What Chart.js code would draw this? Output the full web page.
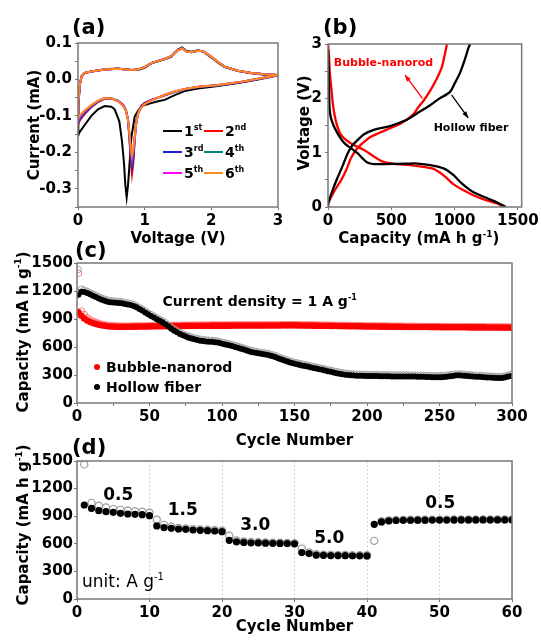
<!DOCTYPE html>
<html>
<head>
<meta charset="UTF-8">
<title>Bubble-nanorod vs hollow fiber</title>
<script src="https://cdn.jsdelivr.net/npm/chart.js@4.4.1/dist/chart.umd.min.js"></script>
<style>
  html, body { margin: 0; background: #fff; }
  #fig { position: relative; width: 541px; height: 643px; }
  #fig canvas { position: absolute; left: 0; top: 0; }
</style>
</head>
<body>
<div id="fig">
  <canvas id="cv" width="541" height="643"></canvas>
  <canvas id="gcd" width="541" height="643"></canvas>
  <canvas id="cyc" width="541" height="643"></canvas>
  <canvas id="rate" width="541" height="643"></canvas>
</div>
<script>
// (a) cyclic voltammetry, first six cycles
const cvCycleNames = ['1st', '2nd', '3rd', '4th', '5th', '6th'];
const cvColors = ['#000000', '#ff0000', '#1f1fd0', '#00897b', '#ff00ff', '#ff8a1c'];
const cvDownV1 = [3.0, 2.7, 2.4, 2.1, 1.8, 1.6, 1.45, 1.3, 1.2, 1.1, 1.0, 0.95, 0.9, 0.85, 0.8, 0.77, 0.75, 0.73, 0.71, 0.69, 0.66, 0.62, 0.55, 0.5, 0.4, 0.3, 0.2, 0.1, 0.03, 0.0];
const cvDownV = [3.0, 2.7, 2.4, 2.1, 1.8, 1.6, 1.45, 1.3, 1.2, 1.1, 1.0, 0.95, 0.9, 0.87, 0.85, 0.83, 0.81, 0.79, 0.77, 0.75, 0.72, 0.68, 0.6, 0.5, 0.4, 0.3, 0.2, 0.1, 0.03, 0.0];
const cvUpV = [0.0, 0.01, 0.03, 0.06, 0.1, 0.2, 0.4, 0.6, 0.8, 0.9, 1.0, 1.1, 1.2, 1.3, 1.4, 1.5, 1.56, 1.63, 1.7, 1.8, 1.88, 2.0, 2.1, 2.2, 2.4, 2.6, 2.8, 3.0];
const cvDownI = [
  [0.011, 0.0, -0.01, -0.018, -0.025, -0.032, -0.043, -0.056, -0.06, -0.065, -0.07, -0.076, -0.086, -0.102, -0.16, -0.24, -0.29, -0.324, -0.29, -0.23, -0.17, -0.115, -0.082, -0.075, -0.073, -0.082, -0.1, -0.125, -0.143, -0.153],
  [0.012, 0.001, -0.009, -0.016, -0.021, -0.027, -0.034, -0.044, -0.05, -0.056, -0.064, -0.072, -0.09, -0.12, -0.17, -0.23, -0.26, -0.22, -0.16, -0.11, -0.085, -0.07, -0.058, -0.052, -0.053, -0.062, -0.076, -0.095, -0.112, -0.122],
  [0.012, 0.001, -0.009, -0.016, -0.021, -0.027, -0.034, -0.043, -0.05, -0.056, -0.065, -0.073, -0.092, -0.122, -0.165, -0.215, -0.24, -0.205, -0.155, -0.11, -0.086, -0.071, -0.059, -0.052, -0.052, -0.061, -0.074, -0.092, -0.108, -0.118],
  [0.012, 0.002, -0.008, -0.016, -0.021, -0.027, -0.034, -0.043, -0.05, -0.057, -0.066, -0.075, -0.093, -0.124, -0.162, -0.2, -0.225, -0.195, -0.15, -0.11, -0.087, -0.072, -0.059, -0.052, -0.052, -0.06, -0.072, -0.089, -0.104, -0.113],
  [0.012, 0.002, -0.008, -0.015, -0.02, -0.026, -0.033, -0.042, -0.05, -0.057, -0.067, -0.076, -0.094, -0.125, -0.161, -0.195, -0.215, -0.19, -0.148, -0.11, -0.087, -0.072, -0.06, -0.052, -0.051, -0.059, -0.071, -0.087, -0.101, -0.11],
  [0.012, 0.002, -0.008, -0.015, -0.02, -0.026, -0.033, -0.042, -0.05, -0.058, -0.068, -0.077, -0.095, -0.125, -0.16, -0.19, -0.208, -0.185, -0.145, -0.11, -0.088, -0.073, -0.06, -0.052, -0.051, -0.058, -0.07, -0.085, -0.098, -0.106]
];
const cvUpI = [
  [-0.153, -0.07, -0.012, 0.011, 0.017, 0.022, 0.028, 0.03, 0.026, 0.026, 0.032, 0.044, 0.05, 0.055, 0.062, 0.082, 0.088, 0.078, 0.076, 0.08, 0.076, 0.06, 0.046, 0.034, 0.023, 0.017, 0.013, 0.011],
  [-0.122, -0.065, -0.011, 0.012, 0.018, 0.022, 0.027, 0.029, 0.026, 0.027, 0.034, 0.045, 0.051, 0.056, 0.064, 0.081, 0.086, 0.077, 0.075, 0.079, 0.077, 0.062, 0.048, 0.035, 0.024, 0.018, 0.014, 0.012],
  [-0.118, -0.064, -0.011, 0.012, 0.018, 0.022, 0.027, 0.029, 0.026, 0.027, 0.034, 0.045, 0.051, 0.056, 0.064, 0.081, 0.086, 0.077, 0.075, 0.079, 0.077, 0.062, 0.048, 0.035, 0.024, 0.018, 0.014, 0.012],
  [-0.113, -0.062, -0.01, 0.012, 0.018, 0.022, 0.027, 0.029, 0.026, 0.027, 0.034, 0.045, 0.051, 0.056, 0.064, 0.08, 0.086, 0.077, 0.075, 0.079, 0.077, 0.062, 0.048, 0.035, 0.024, 0.018, 0.014, 0.012],
  [-0.11, -0.061, -0.01, 0.012, 0.018, 0.022, 0.027, 0.029, 0.026, 0.027, 0.034, 0.045, 0.051, 0.056, 0.064, 0.08, 0.085, 0.076, 0.075, 0.079, 0.077, 0.062, 0.048, 0.035, 0.024, 0.018, 0.014, 0.012],
  [-0.106, -0.06, -0.01, 0.012, 0.018, 0.022, 0.027, 0.029, 0.026, 0.027, 0.034, 0.045, 0.051, 0.056, 0.064, 0.08, 0.085, 0.076, 0.075, 0.079, 0.077, 0.062, 0.048, 0.035, 0.024, 0.018, 0.014, 0.012]
];
const cvXTicks = [0, 1, 2, 3];
const cvYTicks = [0.1, 0.05, 0.0, -0.05, -0.1, -0.15, -0.2, -0.25, -0.3, -0.35];
const cvYLabels = [0.1, 0.0, -0.1, -0.2, -0.3];

// (b) discharge / charge profiles
const bnDisCap = [0, 8, 15, 28, 41, 67, 105, 182, 285, 362, 438, 541, 650, 750, 823, 880, 930, 990, 1060, 1144, 1220, 1298, 1350, 1395];
const bnDisV = [3.0, 2.77, 2.46, 2.15, 1.85, 1.54, 1.32, 1.17, 1.05, 0.93, 0.83, 0.79, 0.77, 0.74, 0.71, 0.64, 0.55, 0.42, 0.32, 0.22, 0.15, 0.09, 0.05, 0.0];
const bnChgCap = [0, 2, 54, 105, 144, 182, 221, 271, 336, 413, 490, 560, 618, 680, 708, 759, 810, 861, 900, 925, 940];
const bnChgV = [0, 0.07, 0.31, 0.5, 0.68, 0.9, 1.05, 1.17, 1.29, 1.37, 1.45, 1.52, 1.6, 1.72, 1.82, 1.97, 2.15, 2.37, 2.58, 2.83, 3.0];
const hfDisCap = [0, 2, 5, 8, 12, 18, 28, 54, 92, 131, 182, 233, 271, 310, 362, 450, 550, 650, 708, 810, 913, 990, 1054, 1144, 1259, 1348, 1405];
const hfDisV = [2.9, 2.83, 2.5, 2.2, 1.85, 1.7, 1.6, 1.45, 1.29, 1.17, 1.08, 0.99, 0.9, 0.82, 0.79, 0.79, 0.795, 0.8, 0.8, 0.77, 0.71, 0.59, 0.44, 0.28, 0.16, 0.07, 0.0];
const hfChgCap = [0, 2, 41, 79, 118, 156, 195, 233, 285, 362, 490, 618, 708, 798, 870, 964, 1002, 1041, 1079, 1113, 1125];
const hfChgV = [0, 0.07, 0.34, 0.56, 0.77, 0.99, 1.14, 1.23, 1.34, 1.42, 1.49, 1.6, 1.73, 1.86, 1.98, 2.12, 2.28, 2.46, 2.7, 2.95, 3.0];
const gcdXTicks = [0, 500, 1000, 1500];
const gcdYTicks = [0, 0.5, 1, 1.5, 2, 2.5, 3];
const gcdYLabels = [0, 1, 2, 3];

// (c) cycling at 1 A/g, every second cycle
const longCycles = Array.from({ length: 150 }, (_, i) => 2 * i + 1);
const bnDischarge = [
  972, 935, 905, 884, 868, 856, 846, 838, 832, 827,
  823, 820, 818, 817, 816, 816, 816, 817, 817, 818,
  818, 819, 819, 820, 820, 821, 821, 822, 822, 823,
  823, 824, 824, 825, 825, 825, 826, 826, 826, 827,
  827, 827, 828, 828, 828, 828, 829, 829, 829, 829,
  829, 829, 829, 830, 830, 830, 830, 830, 830, 830,
  830, 830, 830, 830, 830, 831, 831, 831, 831, 831,
  832, 832, 832, 832, 832, 832, 831, 831, 831, 830,
  830, 829, 829, 828, 828, 827, 827, 826, 826, 825,
  825, 824, 824, 823, 823, 822, 822, 821, 821, 820,
  820, 820, 819, 819, 818, 818, 818, 817, 817, 817,
  816, 816, 816, 815, 815, 815, 815, 814, 814, 814,
  814, 813, 813, 813, 813, 812, 812, 812, 812, 812,
  811, 811, 811, 811, 811, 810, 810, 810, 810, 810,
  810, 809, 809, 809, 809, 809, 809, 808, 808, 808
];
const bnCharge = [
  1390, 985, 948, 915, 893, 876, 864, 853, 845, 839,
  834, 830, 827, 825, 824, 823, 823, 824, 824, 825,
  825, 826, 826, 827, 827, 828, 828, 829, 829, 830,
  830, 831, 831, 832, 832, 832, 833, 833, 833, 834,
  834, 834, 835, 835, 835, 835, 836, 836, 836, 836,
  836, 836, 836, 837, 837, 837, 837, 837, 837, 837,
  837, 837, 837, 837, 837, 838, 838, 838, 838, 838,
  839, 839, 839, 839, 839, 839, 838, 838, 838, 837,
  837, 836, 836, 835, 835, 834, 834, 833, 833, 832,
  832, 831, 831, 830, 830, 829, 829, 828, 828, 827,
  827, 827, 826, 826, 825, 825, 825, 824, 824, 824,
  823, 823, 823, 822, 822, 822, 822, 821, 821, 821,
  821, 820, 820, 820, 820, 819, 819, 819, 819, 819,
  818, 818, 818, 818, 818, 817, 817, 817, 817, 817,
  817, 816, 816, 816, 816, 816, 816, 815, 815, 815
];
const hfDischarge = [
  1160, 1192, 1190, 1178, 1165, 1150, 1135, 1120, 1105, 1095,
  1085, 1080, 1078, 1075, 1072, 1068, 1062, 1056, 1050, 1040,
  1025, 1008, 990, 970, 950, 932, 915, 898, 880, 865,
  845, 820, 795, 775, 757, 740, 725, 712, 700, 690,
  682, 675, 668, 663, 660, 657, 655, 652, 648, 640,
  632, 625, 618, 610, 600, 592, 582, 572, 562, 553,
  545, 538, 532, 527, 522, 517, 510, 500, 490, 478,
  466, 455, 444, 434, 425, 417, 410, 403, 396, 390,
  383, 376, 369, 362, 355, 348, 341, 334, 327, 320,
  314, 309, 304, 300, 297, 295, 293, 292, 291, 290,
  290, 289, 288, 288, 287, 287, 286, 286, 285, 285,
  285, 285, 284, 284, 284, 283, 283, 282, 281, 280,
  279, 278, 277, 276, 276, 277, 279, 282, 286, 290,
  294, 296, 295, 292, 289, 286, 284, 282, 280, 278,
  276, 274, 272, 270, 268, 267, 268, 272, 280, 290
];
const hfCharge = [
  1430, 1222, 1212, 1198, 1184, 1170, 1155, 1140, 1126, 1115,
  1105, 1099, 1096, 1093, 1090, 1086, 1080, 1074, 1068, 1058,
  1043, 1026, 1008, 988, 968, 950, 933, 916, 898, 883,
  863, 838, 813, 793, 775, 758, 743, 730, 718, 708,
  700, 693, 686, 681, 678, 675, 673, 670, 666, 658,
  650, 643, 636, 628, 618, 610, 600, 590, 580, 571,
  563, 556, 550, 545, 540, 535, 528, 518, 508, 496,
  484, 473, 462, 452, 443, 435, 428, 421, 414, 408,
  401, 394, 387, 380, 373, 366, 359, 352, 345, 338,
  332, 327, 322, 318, 315, 313, 311, 310, 309, 308,
  308, 307, 306, 306, 305, 305, 304, 304, 303, 303,
  303, 303, 302, 302, 302, 301, 301, 300, 299, 298,
  297, 296, 295, 294, 294, 295, 297, 300, 304, 308,
  312, 314, 313, 310, 307, 304, 302, 300, 298, 296,
  294, 292, 290, 288, 286, 285, 286, 290, 298, 308
];
const longXTicks = [0, 25, 50, 75, 100, 125, 150, 175, 200, 225, 250, 275, 300];
const longXLabels = [0, 50, 100, 150, 200, 250, 300];
const capTicks = [0, 300, 600, 900, 1200, 1500];

// (d) rate capability, ten cycles per current density
const rateCycles = Array.from({ length: 60 }, (_, i) => i + 1);
const rateDischarge = [
  1022, 985, 960, 949, 942, 931, 924, 920, 917, 906,
  794, 776, 768, 761, 757, 750, 747, 743, 739, 732,
  638, 622, 615, 611, 610, 607, 606, 604, 603, 600,
  505, 494, 476, 475, 472, 472, 471, 470, 469, 468,
  812, 838, 849, 853, 855, 856, 857, 857, 858, 858,
  858, 859, 859, 859, 859, 860, 860, 860, 860, 860
];
const rateCharge = [
  1463, 1045, 1013, 995, 977, 969, 962, 955, 948, 937,
  862, 806, 785, 772, 766, 760, 756, 752, 748, 742,
  688, 636, 626, 621, 618, 615, 613, 611, 609, 607,
  548, 506, 486, 482, 480, 479, 478, 477, 476, 475,
  632, 845, 855, 858, 860, 861, 862, 862, 863, 863,
  863, 864, 864, 864, 864, 865, 865, 865, 865, 865
];
const rateSteps = ['0.5', '1.5', '3.0', '5.0', '0.5'];
const rateXTicks = [0, 10, 20, 30, 40, 50, 60];

const FONT = '"DejaVu Sans", sans-serif';
const FRAME = '#777777';
Chart.defaults.font.family = FONT;
Chart.defaults.font.weight = 'bold';
Chart.defaults.font.size = 15;
Chart.defaults.color = '#000';

// text made of plain and superscript pieces; a piece starting with '^' is raised
function rich(ctx, parts, x, y, size, o = {}) {
  const weight = o.weight || 'bold';
  const segs = parts.map(p => p[0] === '^'
    ? { t: p.slice(1), s: Math.round(size * 0.6), dy: -size * 0.42 }
    : { t: p, s: size, dy: 0 });
  let w = 0;
  segs.forEach(g => { ctx.font = `${weight} ${g.s}px ${FONT}`; g.w = ctx.measureText(g.t).width; w += g.w; });
  let cx = o.align === 'center' ? x - w / 2 : (o.align === 'right' ? x - w : x);
  ctx.save();
  ctx.fillStyle = o.color || '#000';
  ctx.textAlign = 'left';
  ctx.textBaseline = 'alphabetic';
  segs.forEach(g => { ctx.font = `${weight} ${g.s}px ${FONT}`; ctx.fillText(g.t, cx, y + g.dy); cx += g.w; });
  ctx.restore();
}

function richUp(ctx, parts, x, y, size, o = {}) {
  ctx.save();
  ctx.translate(x, y);
  ctx.rotate(-Math.PI / 2);
  rich(ctx, parts, 0, 0, size, Object.assign({ align: 'center' }, o));
  ctx.restore();
}

function frame(chart) {
  const { ctx, chartArea: a } = chart;
  ctx.save();
  ctx.strokeStyle = FRAME;
  ctx.lineWidth = 1.5;
  ctx.strokeRect(a.left, a.top, a.right - a.left, a.bottom - a.top);
  ctx.restore();
}

function arrow(ctx, x1, y1, x2, y2, color) {
  const ang = Math.atan2(y2 - y1, x2 - x1), h = 7;
  ctx.save();
  ctx.strokeStyle = color;
  ctx.fillStyle = color;
  ctx.lineWidth = 1.3;
  ctx.beginPath(); ctx.moveTo(x1, y1); ctx.lineTo(x2, y2); ctx.stroke();
  ctx.beginPath();
  ctx.moveTo(x2, y2);
  ctx.lineTo(x2 - h * Math.cos(ang - 0.35), y2 - h * Math.sin(ang - 0.35));
  ctx.lineTo(x2 - h * Math.cos(ang + 0.35), y2 - h * Math.sin(ang + 0.35));
  ctx.closePath(); ctx.fill();
  ctx.restore();
}

// plot area in page pixels; the axes get a fixed room around it
function box(l, t, r, b) {
  return { padding: { left: l - 60, top: t, right: 541 - r, bottom: 643 - b - 30 }, autoPadding: false };
}

function axis(o) {
  return {
    type: 'linear', min: o.min, max: o.max,
    afterBuildTicks: s => { s.ticks = o.ticks.map(v => ({ value: v })); },
    afterFit: s => { if (o.x) s.height = 30; else s.width = 60; },
    ticks: {
      autoSkip: false, maxRotation: 0, padding: o.pad === undefined ? 2 : o.pad, color: '#000',
      font: { family: FONT, size: 15, weight: 'bold' },
      callback: v => o.labels.includes(v) ? o.fmt(v) : ''
    },
    grid: o.grid || { drawOnChartArea: false, tickLength: 3, tickColor: FRAME, tickWidth: 1 },
    border: o.border || { display: false }
  };
}

const base = (l, t, r, b) => ({
  responsive: false, animation: false, events: [],
  layout: box(l, t, r, b),
  plugins: { legend: { display: false }, tooltip: { enabled: false } }
});

const pairs = (xs, ys) => xs.map((x, i) => ({ x, y: ys[i] }));

// ---------- (a) ----------
const cvSets = cvCycleNames.map((name, i) => ({
  label: name,
  data: pairs(i === 0 ? cvDownV1 : cvDownV, cvDownI[i]).concat(pairs(cvUpV, cvUpI[i])),
  showLine: true, pointRadius: 0, borderColor: cvColors[i], borderWidth: 2, order: 6 - i
}));

new Chart(document.getElementById('cv'), {
  type: 'scatter',
  data: { datasets: cvSets },
  options: Object.assign(base(78, 43, 278, 207), {
    scales: {
      x: axis({ min: 0, max: 3, ticks: cvXTicks, labels: cvXTicks, fmt: v => String(v), x: true }),
      y: axis({ min: -0.35, max: 0.1, ticks: cvYTicks, labels: cvYLabels, fmt: v => v.toFixed(1), pad: 3 })
    }
  }),
  plugins: [{
    id: 'cvDeco',
    afterDraw(c) {
      const { ctx, chartArea: a } = c;
      frame(c);
      rich(ctx, ['(a)'], 72, 34, 21);
      rich(ctx, ['Voltage (V)'], (a.left + a.right) / 2, 243, 15, { align: 'center' });
      richUp(ctx, ['Current (mA)'], 38.5, (a.top + a.bottom) / 2, 15);
      cvCycleNames.forEach((name, i) => {
        const lx = [163, 204][i % 2], ly = 131 + Math.floor(i / 2) * 21;
        ctx.save();
        ctx.strokeStyle = cvColors[i]; ctx.lineWidth = 2;
        ctx.beginPath(); ctx.moveTo(lx, ly); ctx.lineTo(lx + 19, ly); ctx.stroke();
        ctx.restore();
        rich(ctx, [name.slice(0, 1), '^' + name.slice(1)], lx + 21, ly + 5, 14);
      });
    }
  }]
});

// ---------- (b) ----------
new Chart(document.getElementById('gcd'), {
  type: 'scatter',
  data: {
    datasets: [
      { label: 'Hollow fiber discharge', data: pairs(hfDisCap, hfDisV), borderColor: '#000' },
      { label: 'Hollow fiber charge', data: pairs(hfChgCap, hfChgV), borderColor: '#000' },
      { label: 'Bubble-nanorod discharge', data: pairs(bnDisCap, bnDisV), borderColor: '#ff0000' },
      { label: 'Bubble-nanorod charge', data: pairs(bnChgCap, bnChgV), borderColor: '#ff0000' }
    ].map(d => Object.assign(d, { showLine: true, pointRadius: 0, borderWidth: 2.3, tension: 0.3 }))
  },
  options: Object.assign(base(328, 44, 527, 207), {
    scales: {
      x: axis({ min: 0, max: 1530, ticks: gcdXTicks, labels: gcdXTicks, fmt: v => String(v), x: true }),
      y: axis({ min: 0, max: 3, ticks: gcdYTicks, labels: gcdYLabels, fmt: v => String(v), pad: 3 })
    }
  }),
  plugins: [{
    id: 'gcdDeco',
    afterDraw(c) {
      const { ctx, chartArea: a } = c;
      const X = v => c.scales.x.getPixelForValue(v), Y = v => c.scales.y.getPixelForValue(v);
      frame(c);
      rich(ctx, ['(b)'], 323, 34, 21);
      rich(ctx, ['Capacity (mA h g', '^-1', ')'], (a.left + a.right) / 2 - 6, 243, 15, { align: 'center' });
      richUp(ctx, ['Voltage (V)'], 308.5, 123, 15);
      arrow(ctx, X(746), Y(2.0), X(608), Y(2.43), '#ff0000');
      arrow(ctx, X(977), Y(2.06), X(1108), Y(1.64), '#000');
      rich(ctx, ['Bubble-nanorod'], X(438), Y(2.59), 11, { align: 'center', color: '#ff0000' });
      rich(ctx, ['Hollow fiber'], X(1130), Y(1.40), 11, { align: 'center' });
    }
  }]
});

// ---------- (c) ----------
new Chart(document.getElementById('cyc'), {
  type: 'scatter',
  data: {
    datasets: [
      { label: 'Hollow fiber', data: pairs(longCycles, hfDischarge), pointRadius: 3, backgroundColor: '#000', borderWidth: 0, order: 0 },
      { label: 'Hollow fiber charge', data: pairs(longCycles, hfCharge), pointRadius: 3, backgroundColor: 'rgba(0,0,0,0)', borderColor: '#a0a0a0', borderWidth: 1, order: 1 },
      { label: 'Bubble-nanorod', data: pairs(longCycles, bnDischarge), pointRadius: 3.3, backgroundColor: '#ff0000', borderWidth: 0, order: 2 },
      { label: 'Bubble-nanorod charge', data: pairs(longCycles, bnCharge), pointRadius: 3.3, backgroundColor: 'rgba(0,0,0,0)', borderColor: '#ff7a7a', borderWidth: 1, order: 3 }
    ]
  },
  options: Object.assign(base(77, 263, 512, 403), {
    scales: {
      x: axis({ min: 0, max: 300, ticks: longXTicks, labels: longXLabels, fmt: v => String(v), x: true }),
      y: axis({ min: 0, max: 1500, ticks: capTicks, labels: capTicks, fmt: v => String(v), pad: 1 })
    }
  }),
  plugins: [{
    id: 'cycDeco',
    afterDraw(c) {
      const { ctx, chartArea: a } = c;
      const X = v => c.scales.x.getPixelForValue(v), Y = v => c.scales.y.getPixelForValue(v);
      frame(c);
      rich(ctx, ['(c)'], 75, 257, 21);
      rich(ctx, ['Cycle Number'], (a.left + a.right) / 2, 445, 15, { align: 'center' });
      richUp(ctx, ['Capacity (mA h g', '^-1', ')'], 27.5, 332, 15);
      rich(ctx, ['Current density = 1 A g', '^-1'], X(59), Y(1040), 14);
      [['Bubble-nanorod', '#ff0000', 367], ['Hollow fiber', '#000', 387]].forEach(([t, col, y]) => {
        ctx.save(); ctx.fillStyle = col;
        ctx.beginPath(); ctx.arc(a.left + 20, y, 3, 0, Math.PI * 2); ctx.fill();
        ctx.restore();
        rich(ctx, [t], a.left + 29, y + 5, 14);
      });
    }
  }]
});

// ---------- (d) ----------
new Chart(document.getElementById('rate'), {
  type: 'scatter',
  data: {
    datasets: [
      { label: 'Discharge', data: pairs(rateCycles, rateDischarge), pointRadius: 3.6, backgroundColor: '#000', borderWidth: 0, order: 0 },
      { label: 'Charge', data: pairs(rateCycles, rateCharge), pointRadius: 3.6, backgroundColor: 'rgba(0,0,0,0)', borderColor: '#9a9a9a', borderWidth: 1.2, order: 1 }
    ]
  },
  options: Object.assign(base(77, 461, 512, 599), {
    scales: {
      x: axis({
        min: 0, max: 60, ticks: rateXTicks, labels: rateXTicks, fmt: v => String(v), x: true,
        grid: { drawOnChartArea: true, color: '#d4d4d4', lineWidth: 1, tickLength: 3, tickColor: FRAME },
        border: { display: false, dash: [2, 2] }
      }),
      y: axis({ min: 0, max: 1500, ticks: capTicks, labels: capTicks, fmt: v => String(v), pad: 1 })
    }
  }),
  plugins: [{
    id: 'rateDeco',
    afterDraw(c) {
      const { ctx, chartArea: a } = c;
      const X = v => c.scales.x.getPixelForValue(v), Y = v => c.scales.y.getPixelForValue(v);
      frame(c);
      rich(ctx, ['(d)'], 72, 454, 21);
      rich(ctx, ['Cycle Number'], (a.left + a.right) / 2, 631, 15, { align: 'center' });
      richUp(ctx, ['Capacity (mA h g', '^-1', ')'], 28, 525, 15);
      const at = [[5.7, 1076], [14.6, 913], [24.6, 750], [34.8, 609], [50.1, 989]];
      rateSteps.forEach((t, i) => rich(ctx, [t], X(at[i][0]), Y(at[i][1]), 17, { align: 'center' }));
      rich(ctx, ['unit: A g', '^-1'], X(0.7), Y(130), 17, { weight: 'normal' });
    }
  }]
});
</script>
</body>
</html>
